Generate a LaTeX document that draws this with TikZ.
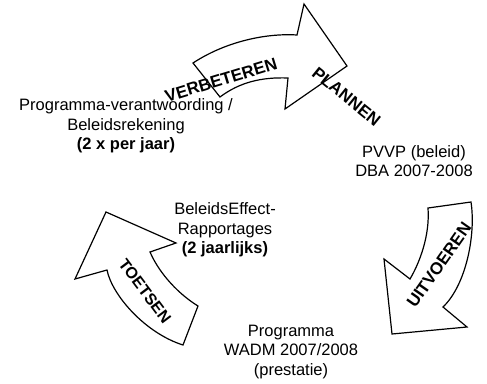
\documentclass[tikz,border=0pt]{standalone}
\usepackage{fontspec}
\setmainfont{Liberation Sans}
\begin{document}
\begin{tikzpicture}[x=1pt,y=-1pt,
  arrowshape/.style={draw=black, fill=white, line width=1.2pt, line join=miter},
  lbl/.style={font=\fontsize{16.5}{19.5}\selectfont, align=center, inner sep=0pt},
  arrlbl/.style={font=\fontsize{17}{20}\selectfont\bfseries, inner sep=0pt}]
\fill[white] (0,0) rectangle (487,383);
\useasboundingbox (0,0) rectangle (487,383);
% top arrow (VERBETEREN / PLANNEN)
\draw[arrowshape] (193,63) .. controls (225,42) and (265,33) .. (297,35) -- (304,4) -- (347,66) -- (285,109) -- (288,78) .. controls (262,77) and (240,82) .. (220,97) -- cycle;
% right arrow (UITVOEREN)
\draw[arrowshape] (471,202) .. controls (476,235) and (466,285) .. (443,307) -- (467,327) -- (392,334) -- (384,259) -- (410,279) .. controls (420,262) and (430,235) .. (428,208) -- cycle;
% left arrow (TOETSEN)
\draw[arrowshape] (183,345) .. controls (145,333) and (112,295) .. (107,270) -- (75,279) -- (106,212) -- (176,243) -- (150,252) .. controls (160,275) and (180,295) .. (198,306) -- cycle;
% arrow labels
\node[arrlbl, rotate=17] (verb) at (221,80) {VERBETEREN};
\node[arrlbl, rotate=-39] (plan) at (346.5,96.5) {PLANNEN};
\node[arrlbl, rotate=55] (uitv) at (439,265) {UITVOEREN};
\node[arrlbl, font=\fontsize{16}{19}\selectfont\bfseries, rotate=-53] (toets) at (145,291) {TOETSEN};
% text blocks
\node[lbl] (pv) at (126,126) {Programma-verantwoording /\\Beleidsrekening\\\textbf{(2 x per jaar)}};
\node[lbl] (pvvp) at (414,161) {PVVP (beleid)\\DBA 2007-2008};
\node[lbl] (ber) at (225,230) {BeleidsEffect-\\Rapportages\\\textbf{(2 jaarlijks)}};
\node[lbl] (prog) at (291,352) {Programma\\WADM 2007/2008\\(prestatie)};
\end{tikzpicture}
\end{document}
